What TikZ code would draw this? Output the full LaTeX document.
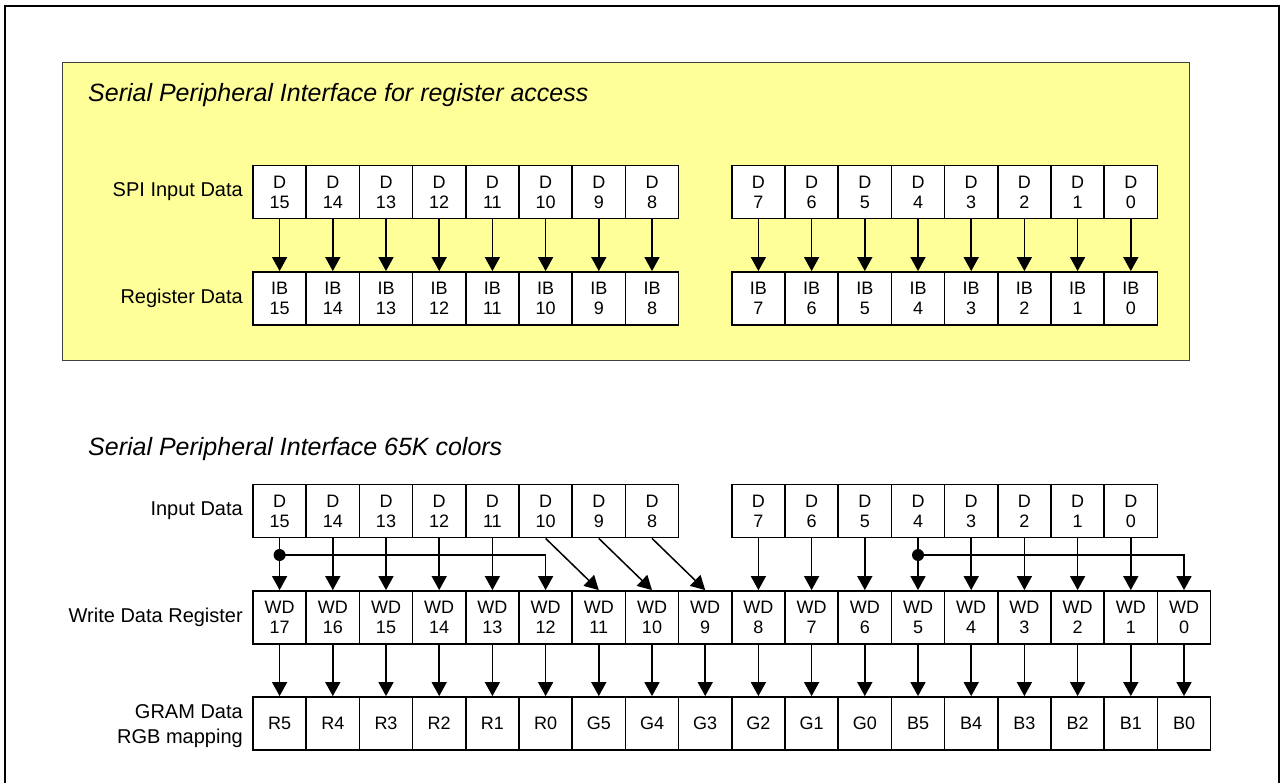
\documentclass[tikz,border=0pt]{standalone}
\usepackage{fontspec}
\setmainfont{Liberation Sans}
\usetikzlibrary{arrows.meta}
\definecolor{ylw}{HTML}{FFFF99}
\begin{document}
\begin{tikzpicture}[x=1pt,y=-1pt,
  cell/.style={draw, line width=1.5pt, fill=white, minimum width=53.2pt, minimum height=53.3pt,
    inner sep=0pt, align=center, font=\fontsize{18}{20}\selectfont},
  lbl/.style={anchor=east, align=right, inner sep=0pt, font=\fontsize{20}{25}\selectfont},
  ttl/.style={anchor=west, inner sep=0pt, font=\fontsize{25}{28}\selectfont\itshape},
  arr/.style={line width=1.5pt, -{Triangle[width=15pt,length=14pt]}},
  dot/.style={circle, fill=black, inner sep=0pt, minimum size=12pt}
]
\useasboundingbox (0,0) rectangle (1281,783);
\draw[line width=2.5pt] (5,790) -- (5,6) -- (1279,6) -- (1279,790);
\draw[fill=ylw, draw=black!75, line width=1pt] (62,63) rectangle (1189,360);

\node[ttl] (title1) at (88,95) {Serial Peripheral Interface for register access};
\node[ttl] (title2) at (88,449) {Serial Peripheral Interface 65K colors};

\node[lbl] (lspi) at (243,192) {SPI Input Data};
\node[lbl] (lreg) at (243,298.5) {Register Data};
\node[lbl] (lin) at (243,511) {Input Data};
\node[lbl] (lwd) at (243,617.5) {Write Data Register};
\node[lbl] (lgr) at (243,726) {GRAM Data\\RGB mapping};

% top section
\foreach \b in {15,...,8} {
  \pgfmathtruncatemacro\c{15-\b}
  \node[cell] (sd\b) at ({279.6+53.2*\c},192) {D\\\b};
  \node[cell] (rb\b) at ({279.6+53.2*\c},298.5) {IB\\\b};
}
\foreach \b in {7,...,0} {
  \pgfmathtruncatemacro\c{16-\b}
  \node[cell] (sd\b) at ({279.6+53.2*\c},192) {D\\\b};
  \node[cell] (rb\b) at ({279.6+53.2*\c},298.5) {IB\\\b};
}
\foreach \b in {0,...,15} { \draw[arr] (sd\b) -- (rb\b); }

% bottom section
\foreach \b in {15,...,8} {
  \pgfmathtruncatemacro\c{15-\b}
  \node[cell] (id\b) at ({279.6+53.2*\c},511) {D\\\b};
}
\foreach \b in {7,...,0} {
  \pgfmathtruncatemacro\c{16-\b}
  \node[cell] (id\b) at ({279.6+53.2*\c},511) {D\\\b};
}
\foreach \b in {17,...,0} {
  \pgfmathtruncatemacro\c{17-\b}
  \node[cell] (wd\b) at ({279.6+53.2*\c},617.5) {WD\\\b};
}
\foreach \t [count=\c from 0] in {R5,R4,R3,R2,R1,R0,G5,G4,G3,G2,G1,G0,B5,B4,B3,B2,B1,B0} {
  \node[cell] (g\c) at ({279.6+53.2*\c},723.5) {\t};
}

\coordinate (ylev) at (0,555);
\coordinate (j1) at (id15 |- ylev);
\coordinate (j2) at (id4 |- ylev);

\foreach \b in {15,...,11} {
  \pgfmathtruncatemacro\w{\b+2}
  \draw[arr] (id\b) -- (wd\w);
}
\foreach \b in {7,...,0} {
  \pgfmathtruncatemacro\w{\b+1}
  \draw[arr] (id\b) -- (wd\w);
}
\foreach \b in {10,9,8} {
  \pgfmathtruncatemacro\w{\b+1}
  \draw[arr] (id\b.south) -- (wd\w.north);
}
\draw[arr] (j1) -| (wd12.north);
\draw[arr] (j2) -| (wd0.north);
\node[dot] (dot1) at (j1) {};
\node[dot] (dot2) at (j2) {};

\foreach \b in {17,...,0} {
  \pgfmathtruncatemacro\c{17-\b}
  \draw[arr] (wd\b) -- (g\c);
}
\end{tikzpicture}
\end{document}
